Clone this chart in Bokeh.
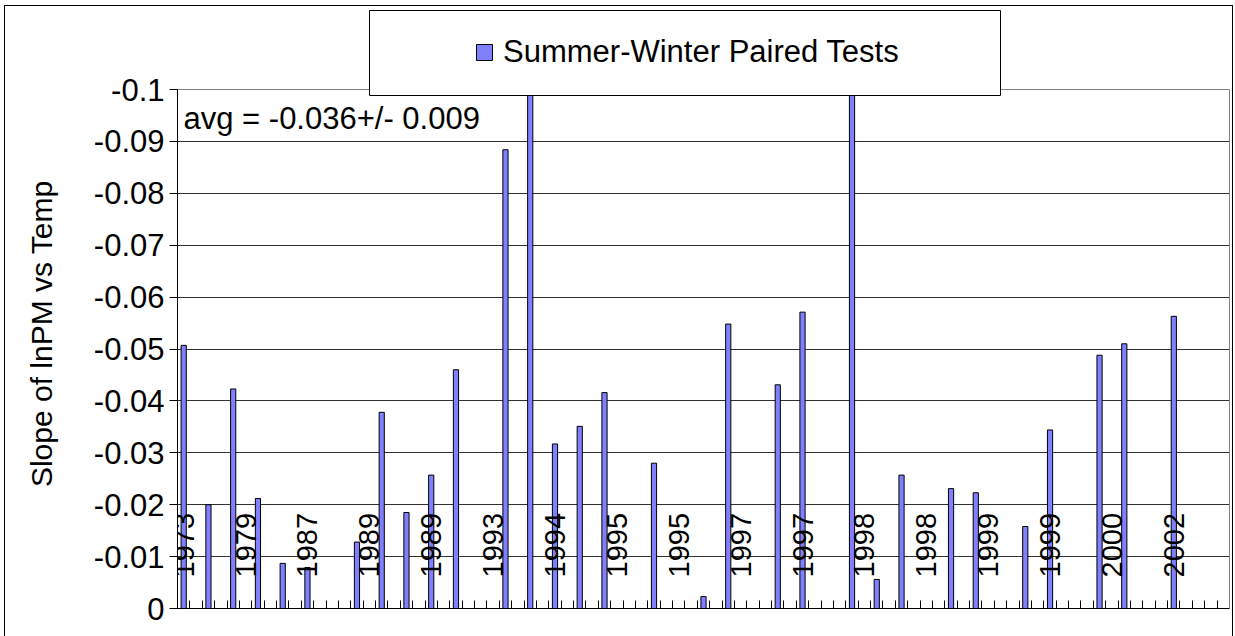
from bokeh.plotting import figure
from bokeh.models import (Range1d, FixedTicker, Legend, LegendItem, Label, LinearAxis,
                          Grid, BoxAnnotation, ColumnDataSource, CustomJSTickFormatter)
from bokeh.core.properties import value
from bokeh.embed import file_html
from bokeh.resources import INLINE
import math

# ---------------- data ----------------
n_slots = 85  # category slots along the x axis
bar_slots = [0, 2, 4, 6, 8, 10, 14, 16, 18, 20, 22, 26, 28, 30, 32, 34, 38, 42, 44,
             48, 50, 54, 56, 58, 62, 64, 68, 70, 74, 76, 80]
slope_values = [-0.0507, -0.0200, -0.0423, -0.0212, -0.0087, -0.0079, -0.0128, -0.0378,
                -0.0185, -0.0257, -0.0460, -0.0884, -0.1100, -0.0317, -0.0351, -0.0416,
                -0.0280, -0.0023, -0.0548, -0.0431, -0.0571, -0.1100, -0.0056, -0.0257,
                -0.0231, -0.0223, -0.0158, -0.0344, -0.0488, -0.0510, -0.0563]
label_slots = [0, 5, 10, 15, 20, 25, 30, 35, 40, 45, 50, 55, 60, 65, 70, 75, 80]
year_labels = ["1973", "1979", "1987", "1989", "1989", "1993", "1994", "1995", "1995",
               "1997", "1997", "1998", "1998", "1999", "1999", "2000", "2002"]
y_ticks = [0, -0.01, -0.02, -0.03, -0.04, -0.05, -0.06, -0.07, -0.08, -0.09, -0.1]
y_tick_labels = ["0", "-0.01", "-0.02", "-0.03", "-0.04", "-0.05", "-0.06", "-0.07",
                 "-0.08", "-0.09", "-0.1"]
y_axis_min, y_axis_max = -0.1, 0.0
series_name = "Summer-Winter Paired Tests"
avg_text = "avg = -0.036+/- 0.009"
y_title = "Slope of lnPM vs Temp"

FONT = "Liberation Sans"

# ---------------- layout (pixels) ----------------
W, H = 1235, 636
AREA_LEFT, AREA_RIGHT, AREA_TOP, AREA_BOTTOM = 177, 1229, 89, 608
# the frame reaches the canvas top so the legend box may sit above the value area
frame_h = AREA_BOTTOM
area_h = AREA_BOTTOM - AREA_TOP
y_end = y_axis_max + (y_axis_min - y_axis_max) * frame_h / area_h

outer_border_css = """
:host { position: relative; }
:host::after {
  content: ""; position: absolute; left: 4px; top: 5px;
  width: 1229px; height: 631px; box-sizing: border-box;
  border-left: 1px solid black; border-top: 1px solid black;
  border-right: 1px solid black; pointer-events: none; z-index: 10;
}
"""

p = figure(width=W, height=H,
           x_range=Range1d(0, n_slots), y_range=Range1d(y_axis_max, y_end),
           output_backend="svg", toolbar_location=None,
           min_border_left=AREA_LEFT, min_border_right=W - AREA_RIGHT,
           min_border_top=0, min_border_bottom=H - AREA_BOTTOM)
p.stylesheets = [outer_border_css]
p.background_fill_color = "white"
p.border_fill_color = "white"
p.outline_line_color = None

bar_src = ColumnDataSource(dict(x=[s + 0.5 for s in bar_slots], top=slope_values))
bars = p.vbar(x="x", top="top", bottom=0, width=0.42, source=bar_src,
              fill_color="#8080FF", line_color="black", line_width=1)

lab_src = ColumnDataSource(dict(x=[s + 0.5 for s in label_slots],
                                y=[0] * len(label_slots), text=year_labels))
p.text(x="x", y="y", text="text", source=lab_src, angle=math.pi / 2,
       text_align="left", text_baseline="middle", y_offset=-31,
       text_font=value(FONT), text_font_size="29px", text_color="black")

# axes
p.xaxis.ticker = FixedTicker(ticks=list(range(0, n_slots + 1)))
p.xaxis.formatter = CustomJSTickFormatter(code="return ''")
p.xaxis.major_label_standoff = 0
p.xaxis.major_tick_in = 8
p.xaxis.major_tick_out = 0
p.xaxis.minor_tick_line_color = None
p.xaxis.axis_line_color = "black"
p.xaxis.major_tick_line_color = "black"

p.yaxis.bounds = (y_axis_min, y_axis_max)
p.yaxis.ticker = FixedTicker(ticks=y_ticks)
p.yaxis.major_label_overrides = dict(zip(y_ticks, y_tick_labels))
p.yaxis.major_label_text_font = FONT
p.yaxis.major_label_text_font_size = "31px"
p.yaxis.major_label_text_color = "black"
p.yaxis.major_label_standoff = 5
p.yaxis.major_tick_in = 0
p.yaxis.major_tick_out = 8
p.yaxis.minor_tick_line_color = None
p.yaxis.axis_line_color = "black"
p.yaxis.major_tick_line_color = "black"
# trailing spaces shift the centred title down to the middle of the value area
p.yaxis.axis_label = y_title + " " * 7
p.yaxis.axis_label_text_font = FONT
p.yaxis.axis_label_text_font_size = "30px"
p.yaxis.axis_label_text_font_style = "normal"
p.yaxis.axis_label_text_color = "black"
p.yaxis.axis_label_standoff = 33

# plot-area right border (grey)
right_edge = LinearAxis(bounds=(y_axis_min, y_axis_max), ticker=FixedTicker(ticks=[]),
                        axis_line_color="#808080", major_tick_line_color=None,
                        minor_tick_line_color=None)
p.add_layout(right_edge, "right")

p.xgrid.visible = False
p.ygrid.ticker = FixedTicker(ticks=y_ticks[:-1])
p.ygrid.grid_line_color = "#303030"
p.ygrid.grid_line_width = 1
p.add_layout(Grid(dimension=1, ticker=FixedTicker(ticks=[y_ticks[-1]]),
                  grid_line_color="#808080", grid_line_width=1))

# average annotation
p.add_layout(Label(x=6, y=frame_h - AREA_TOP - 29, x_units="screen", y_units="screen",
                   text=avg_text, text_font=FONT, text_font_size="31px",
                   text_baseline="middle", text_color="black"))

# legend box + entry
LEG_L, LEG_R, LEG_T, LEG_B = 369, 1000, 10, 95
p.add_layout(BoxAnnotation(left=LEG_L - AREA_LEFT, right=LEG_R - AREA_LEFT,
                           top=frame_h - LEG_T, bottom=frame_h - LEG_B,
                           left_units="screen", right_units="screen",
                           top_units="screen", bottom_units="screen",
                           fill_color="white", fill_alpha=1,
                           line_color="black", line_width=1, line_alpha=1))

legend = Legend(items=[LegendItem(label=series_name, renderers=[bars])],
                location=(474 - AREA_LEFT, frame_h - 70),
                padding=0, margin=0, spacing=0,
                glyph_width=20, glyph_height=20, label_standoff=9,
                label_height=35,
                label_text_font=FONT, label_text_font_size="31px",
                label_text_color="black",
                border_line_color=None, background_fill_alpha=0)
p.add_layout(legend)

open("out.html", "w").write(file_html(p, INLINE))
